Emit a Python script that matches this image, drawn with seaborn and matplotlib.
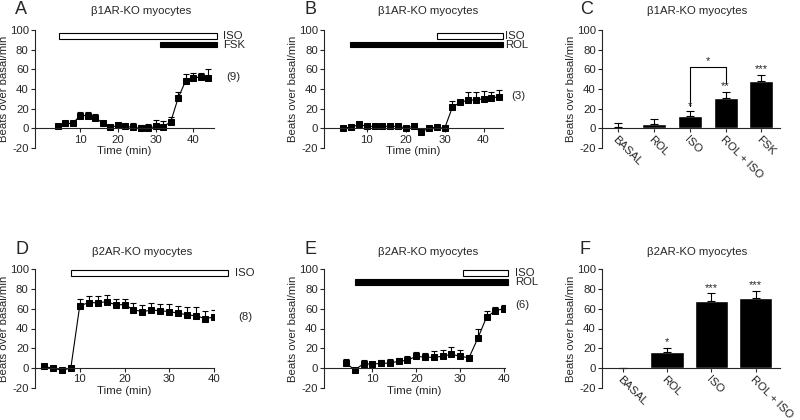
import numpy as np
import pandas as pd
import matplotlib
matplotlib.use('Agg')
import matplotlib.pyplot as plt
import seaborn as sns

# ---- data ----
A_t = [4, 6, 8, 10, 12, 14, 16, 18, 20, 22, 24, 26, 28, 30, 32, 34, 36, 38, 40, 42, 44]
A_y = [2.5, 5, 5, 13, 13, 11, 5, 1, 3, 2, 1, 0, 0, 2, 1.6, 6.5, 31, 48.5, 51.5, 52, 51.5]
A_err = [1, 1, 1, 4, 4, 4, 2, 1, 2, 2, 4, 3, 4, 6, 6, 5, 6, 7, 5, 4.5, 8.5]
A_drug = ['ISO', 'FSK']
A_start = [4.3, 31.3]
A_end = [46.4, 46.4]

B_t = [4, 6, 8, 10, 12, 14, 16, 18, 20, 22, 24, 26, 28, 30, 32, 34, 36, 38, 40, 42, 44]
B_y = [0.5, 1, 4, 2, 2, 2, 2, 2, 0.5, 2, -4, 0.5, 1, 0, 21.5, 26.5, 28.5, 29, 30, 31, 32]
B_err = [0, 0, 0, 0, 0, 0, 0, 0, 0, 0, 0, 0, 0, 0, 6, 1.5, 8, 7.5, 8, 6, 7]
B_drug = ['ISO', 'ROL']
B_start = [28, 5.8]
B_end = [45, 45]

C_cat = ['BASAL', 'ROL', 'ISO', 'ROL + ISO', 'FSK']
C_val = [1, 4, 13, 31, 48]
C_err = [4.5, 5, 4.5, 6, 6.5]
C_star = ['', '', '*', '**', '***']

D_t = [2, 4, 6, 8, 10, 12, 14, 16, 18, 20, 22, 24, 26, 28, 30, 32, 34, 36, 38, 40]
D_y = [1.7, 0, -2, 0, 63, 66, 66, 67, 64, 64, 59, 57, 58.5, 58, 57, 55.5, 53.8, 52.8, 50, 51.5]
D_err = [0, 0, 0, 0, 6.5, 6.5, 6.5, 6.5, 6, 6, 6.5, 7, 7, 6.7, 7.5, 7, 8, 8.5, 8, 7.3]
D_drug = ['ISO']
D_start = [8]
D_end = [43.2]

E_t = [4, 6, 8, 10, 12, 14, 16, 18, 20, 22, 24, 26, 28, 30, 32, 34, 36, 38, 40]
E_y = [5, -1.7, 4.4, 4, 5, 5, 7, 8, 12, 11, 11, 12, 14, 12, 10.5, 30, 51.5, 58, 60]
E_err = [4, 0, 3.5, 2, 3, 4, 3, 4, 4, 4, 6, 6, 7, 6, 3, 9, 6, 4, 4]
E_drug = ['ISO', 'ROL']
E_start = [30.6, 6.1]
E_end = [40.8, 40.8]

F_cat = ['BASAL', 'ROL', 'ISO', 'ROL + ISO']
F_val = [0.4, 16, 68, 70.5]
F_err = [0, 4.5, 7.5, 7.5]
F_star = ['', '*', '***', '***']

sns.set_style('ticks')
plt.rcParams['font.family'] = ['Liberation Sans', 'DejaVu Sans']
plt.rcParams['axes.unicode_minus'] = False
FS = 8.2

fig = plt.figure(figsize=(8, 4.2), dpi=100)


def px_axes(x0, x1, ytop, ybot):
    ax = fig.add_axes([x0 / 800, 1 - ybot / 420, (x1 - x0) / 800, (ybot - ytop) / 420])
    ax.yaxis.set_label_coords(-26 / (x1 - x0), 0.54)
    return ax


def style_axes(ax):
    ax.set_ylim(-20, 100)
    ax.set_yticks(range(-20, 101, 20))
    ax.spines['bottom'].set_position(('data', 0))
    ax.spines[['top', 'right']].set_visible(False)
    for s in ax.spines.values():
        s.set_linewidth(0.8)
    ax.tick_params(labelsize=FS, width=0.8, length=3, pad=1.5)
    ax.set_ylabel('Beats over basal/min', fontsize=FS)


def time_panel(ax, t, y, err, drugs, starts, ends, levels, n_text, n_x, n_y, lab_x, xlim):
    df = pd.DataFrame({'t': t, 'y': y})
    sns.lineplot(data=df, x='t', y='y', color='black', lw=0.8, marker='s',
                 markersize=4.3, markeredgecolor='black', ax=ax)
    ax.errorbar(t, y, yerr=[np.zeros(len(err)), err], fmt='none', ecolor='black',
                elinewidth=0.8, capsize=2.2, capthick=0.8)
    for d, s, e, lv in zip(drugs, starts, ends, levels):
        fill = 'white' if d == 'ISO' else 'black'
        ax.barh(lv, e - s, left=s, height=5.5, color=fill, edgecolor='black',
                lw=0.8, clip_on=False)
        ax.text(lab_x, lv, d, fontsize=FS, ha='left', va='center', clip_on=False)
    ax.text(n_x, n_y, n_text, fontsize=FS, ha='left', va='center')
    ax.set_xlim(*xlim)
    ax.set_xticks([10, 20, 30, 40])
    style_axes(ax)
    ax.set_xlabel('Time (min)', fontsize=FS, labelpad=1)


def bar_panel(ax, cats, vals, err, stars, width, xlim):
    sns.barplot(x=cats, y=vals, color='black', saturation=1, width=width,
                errorbar=None, ax=ax)
    pos = np.arange(len(cats))
    ax.errorbar(pos, vals, yerr=[np.zeros(len(err)), err], fmt='none', ecolor='black',
                elinewidth=0.8, capsize=3, capthick=0.8)
    for p, v, e, s in zip(pos, vals, err, stars):
        if s:
            ax.text(p, v + e + 0.5, s, fontsize=8, ha='center', va='bottom')
    ax.set_xlim(*xlim)
    style_axes(ax)
    ax.set_xticks(pos)
    ax.set_xticklabels(cats, rotation=-45, ha='left', va='top', rotation_mode='anchor')
    ax.set_xlabel('')


axA = px_axes(35, 214, 30, 148)
time_panel(axA, A_t, A_y, A_err, A_drug, A_start, A_end, [94, 85],
           '(9)', 48.7, 52, 47.9, (-2, 45.5))
axB = px_axes(324, 503, 30, 148)
time_panel(axB, B_t, B_y, B_err, B_drug, B_start, B_end, [94, 85],
           '(3)', 47, 32.5, 45.6, (-1, 45))
axC = px_axes(602, 780, 30, 148)
bar_panel(axC, C_cat, C_val, C_err, C_star, 0.67, (-0.45, 4.52))
axC.plot([2, 2, 3, 3], [23, 62, 62, 45], color='black', lw=0.8)
axC.text(2.5, 63, '*', fontsize=8, ha='center', va='bottom')

axD = px_axes(35, 214, 269, 388)
time_panel(axD, D_t, D_y, D_err, D_drug, D_start, D_end, [96],
           '(8)', 45.4, 52, 44.6, (0, 40))
axE = px_axes(324, 505, 269, 388)
time_panel(axE, E_t, E_y, E_err, E_drug, E_start, E_end, [96, 87],
           '(6)', 42.5, 64, 42.4, (-1, 40.2))
axF = px_axes(602, 780, 269, 388)
bar_panel(axF, F_cat, F_val, F_err, F_star, 0.76, (-0.47, 3.55))

# panel letters and titles
letters = [('A', 21, 10), ('B', 310, 10), ('C', 587, 10),
           ('D', 22, 250), ('E', 310, 250), ('F', 585, 250)]
for s, x, y in letters:
    fig.text(x / 800, 1 - y / 420, s, fontsize=13, ha='center', va='center')
titles = [('β1AR-KO myocytes', 141, 11), ('β1AR-KO myocytes', 428, 11),
          ('β1AR-KO myocytes', 697, 11), ('β2AR-KO myocytes', 142, 252),
          ('β2AR-KO myocytes', 428, 252), ('β2AR-KO myocytes', 697, 252)]
for s, x, y in titles:
    fig.text(x / 800, 1 - y / 420, s, fontsize=FS, ha='center', va='center')

fig.savefig('out.png', dpi=100)
